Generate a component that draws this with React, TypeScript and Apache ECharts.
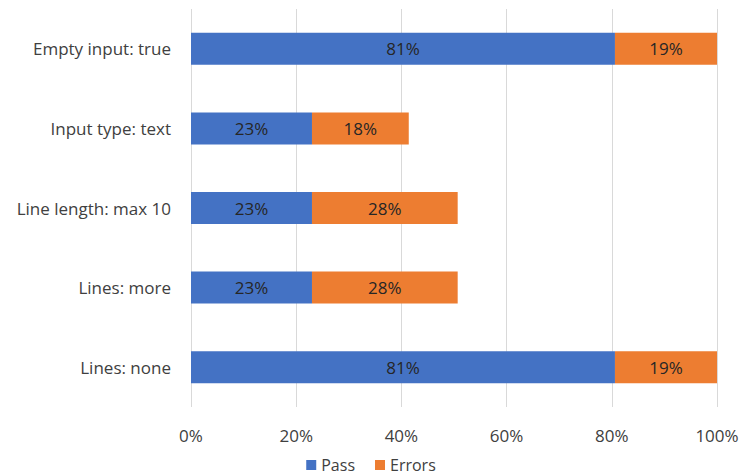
import React, { useEffect, useRef } from "react";
import * as echarts from "echarts";

const categories = ["Lines: none", "Lines: more", "Line length: max 10", "Input type: text", "Empty input: true"];
const passValues = [80.6, 23.0, 23.0, 23.0, 80.6];
const errorValues = [19.4, 27.7, 27.7, 18.4, 19.4];
const xTicks = [0, 20, 40, 60, 80, 100];

const FONT = "'Open Sans', 'Liberation Sans', sans-serif";
const fmt = (p: any) => Math.round(p.value) + "%";

export default function App() {
  const ref = useRef<HTMLDivElement>(null);
  useEffect(() => {
    if (!ref.current) return;
    const chart = echarts.init(ref.current, undefined, { renderer: "svg" });
    chart.setOption({
      animation: false,
      textStyle: { fontFamily: FONT },
      grid: { left: 191, right: 25, top: 9, bottom: 68, containLabel: false },
      legend: {
        data: ["Pass", "Errors"],
        top: 456,
        padding: 0,
        left: "center",
        itemWidth: 10,
        itemHeight: 10,
        itemGap: 20,
        icon: "rect",
        textStyle: { fontSize: 16, lineHeight: 18, color: "#404040", fontFamily: FONT },
      },
      xAxis: {
        type: "value",
        min: xTicks[0],
        max: xTicks[xTicks.length - 1],
        interval: 20,
        axisLabel: { formatter: "{value}%", fontSize: 17, color: "#404040", margin: 20, fontFamily: FONT },
        splitLine: { lineStyle: { color: "#d9d9d9", width: 1 } },
        axisLine: { show: false },
        axisTick: { show: false },
      },
      yAxis: {
        type: "category",
        data: categories,
        axisLabel: { fontSize: 17, color: "#404040", margin: 20, fontFamily: FONT },
        axisLine: { show: false },
        axisTick: { show: false },
      },
      series: [
        {
          name: "Pass",
          type: "bar",
          stack: "total",
          data: passValues,
          barWidth: 32,
          itemStyle: { color: "#4472C4" },
          label: { show: true, position: "inside", formatter: fmt, fontSize: 17, color: "#262626", fontFamily: FONT },
        },
        {
          name: "Errors",
          type: "bar",
          stack: "total",
          data: errorValues,
          barWidth: 32,
          itemStyle: { color: "#ED7D31" },
          label: { show: true, position: "inside", formatter: fmt, fontSize: 17, color: "#262626", fontFamily: FONT },
        },
      ],
    });
    return () => chart.dispose();
  }, []);
  return <div ref={ref} style={{ width: 742, height: 475, position: "absolute", left: 0, top: 0 }} />;
}
